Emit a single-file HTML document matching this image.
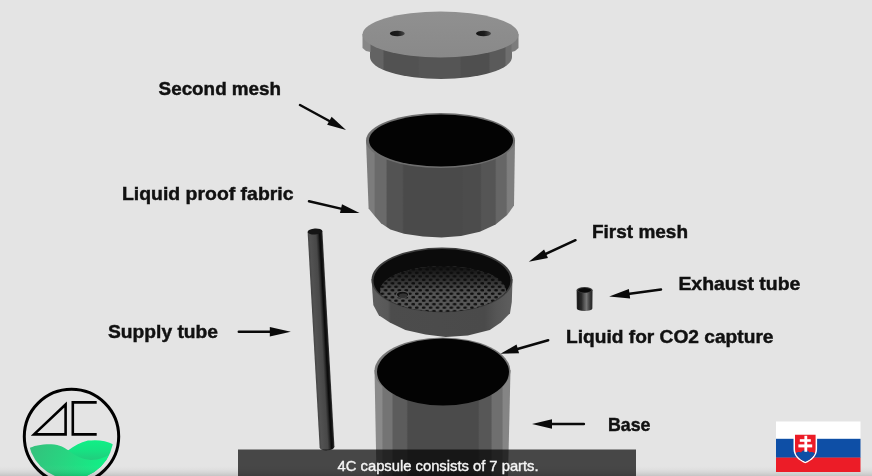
<!DOCTYPE html>
<html><head><meta charset="utf-8">
<style>
html,body{margin:0;padding:0;background:#e4e4e4;overflow:hidden;}
svg{display:block;will-change:transform;}
</style></head>
<body>
<svg width="872" height="476" viewBox="0 0 872 476">
<defs>
  <linearGradient id="bottomShade" x1="0" y1="0" x2="0" y2="1">
    <stop offset="0" stop-color="#e4e4e4" stop-opacity="0"/>
    <stop offset="1" stop-color="#000" stop-opacity="0.14"/>
  </linearGradient>
  <linearGradient id="lidTop" x1="0" y1="0" x2="0" y2="1">
    <stop offset="0" stop-color="#909090"/>
    <stop offset="1" stop-color="#898989"/>
  </linearGradient>
  <linearGradient id="lidSide" x1="370" y1="0" x2="512" y2="0" gradientUnits="userSpaceOnUse">
    <stop offset="0.0000" stop-color="#636363"/>
    <stop offset="0.0894" stop-color="#636363"/>
    <stop offset="0.1007" stop-color="#525252"/>
    <stop offset="0.3380" stop-color="#525252"/>
    <stop offset="0.3493" stop-color="#555555"/>
    <stop offset="0.6324" stop-color="#555555"/>
    <stop offset="0.6437" stop-color="#4f4f4f"/>
    <stop offset="0.8359" stop-color="#4f4f4f"/>
    <stop offset="0.8472" stop-color="#5a5a5a"/>
    <stop offset="0.9486" stop-color="#5a5a5a"/>
    <stop offset="0.9599" stop-color="#6e6e6e"/>
    <stop offset="1.0000" stop-color="#6e6e6e"/>
  </linearGradient>
  <linearGradient id="holeGrad" x1="0" y1="0" x2="1" y2="0">
    <stop offset="0" stop-color="#151515"/>
    <stop offset="0.55" stop-color="#1c1c1c"/>
    <stop offset="1" stop-color="#4a4a4a"/>
  </linearGradient>
  <linearGradient id="cylWall" x1="366" y1="0" x2="515" y2="0" gradientUnits="userSpaceOnUse">
    <stop offset="0.0000" stop-color="#7c7c7c"/>
    <stop offset="0.0530" stop-color="#7c7c7c"/>
    <stop offset="0.0638" stop-color="#6a6a6a"/>
    <stop offset="0.1329" stop-color="#6a6a6a"/>
    <stop offset="0.1436" stop-color="#535353"/>
    <stop offset="0.2430" stop-color="#535353"/>
    <stop offset="0.2537" stop-color="#4a4a4a"/>
    <stop offset="0.6436" stop-color="#4a4a4a"/>
    <stop offset="0.6544" stop-color="#4c4c4c"/>
    <stop offset="0.7664" stop-color="#4c4c4c"/>
    <stop offset="0.7772" stop-color="#555555"/>
    <stop offset="0.8658" stop-color="#555555"/>
    <stop offset="0.8765" stop-color="#666666"/>
    <stop offset="0.9396" stop-color="#666666"/>
    <stop offset="0.9503" stop-color="#7e7e7e"/>
    <stop offset="1.0000" stop-color="#7e7e7e"/>
  </linearGradient>
  <linearGradient id="trayWall" x1="371" y1="0" x2="513" y2="0" gradientUnits="userSpaceOnUse">
    <stop offset="0" stop-color="#5e5e5e"/>
    <stop offset="0.12" stop-color="#585858"/>
    <stop offset="0.14" stop-color="#4c4c4c"/>
    <stop offset="0.8" stop-color="#4a4a4a"/>
    <stop offset="0.88" stop-color="#555"/>
    <stop offset="1" stop-color="#5f5f5f"/>
  </linearGradient>
  <linearGradient id="baseWall" x1="375" y1="0" x2="510.5" y2="0" gradientUnits="userSpaceOnUse">
    <stop offset="0.0000" stop-color="#8a8a8a"/>
    <stop offset="0.0487" stop-color="#8a8a8a"/>
    <stop offset="0.0605" stop-color="#747474"/>
    <stop offset="0.1232" stop-color="#747474"/>
    <stop offset="0.1351" stop-color="#5c5c5c"/>
    <stop offset="0.2317" stop-color="#5c5c5c"/>
    <stop offset="0.2435" stop-color="#4b4b4b"/>
    <stop offset="0.7601" stop-color="#4b4b4b"/>
    <stop offset="0.7720" stop-color="#575757"/>
    <stop offset="0.8546" stop-color="#575757"/>
    <stop offset="0.8664" stop-color="#6f6f6f"/>
    <stop offset="0.9358" stop-color="#6f6f6f"/>
    <stop offset="0.9476" stop-color="#858585"/>
    <stop offset="1.0000" stop-color="#858585"/>
  </linearGradient>
  <linearGradient id="tubeGrad" x1="0" y1="0" x2="1" y2="0">
    <stop offset="0" stop-color="#444"/>
    <stop offset="0.15" stop-color="#525252"/>
    <stop offset="0.55" stop-color="#484848"/>
    <stop offset="0.68" stop-color="#2c2c2c"/>
    <stop offset="0.8" stop-color="#0a0a0a"/>
    <stop offset="0.9" stop-color="#141414"/>
    <stop offset="1" stop-color="#383838"/>
  </linearGradient>
  <linearGradient id="exGrad" x1="576" y1="0" x2="593" y2="0" gradientUnits="userSpaceOnUse">
    <stop offset="0" stop-color="#333"/>
    <stop offset="0.12" stop-color="#1a1a1a"/>
    <stop offset="0.32" stop-color="#2a2a2a"/>
    <stop offset="0.5" stop-color="#5a5a5a"/>
    <stop offset="0.62" stop-color="#747474"/>
    <stop offset="0.76" stop-color="#4a4a4a"/>
    <stop offset="0.9" stop-color="#2a2a2a"/>
    <stop offset="1" stop-color="#444"/>
  </linearGradient>
  <pattern id="holes" x="1" y="0.5" width="6.9" height="6.94" patternUnits="userSpaceOnUse">
    <rect width="6.9" height="6.94" fill="#5c5c5c"/>
    <ellipse cx="1.7" cy="1.7" rx="2" ry="1.2" fill="#101010"/>
    <ellipse cx="5.15" cy="5.17" rx="2" ry="1.2" fill="#101010"/>
  </pattern>
  <linearGradient id="floorShade" x1="0" y1="0" x2="0" y2="1">
    <stop offset="0" stop-color="#0b0b0b" stop-opacity="0.95"/>
    <stop offset="0.25" stop-color="#0b0b0b" stop-opacity="0.6"/>
    <stop offset="0.55" stop-color="#0b0b0b" stop-opacity="0.1"/>
    <stop offset="1" stop-color="#0b0b0b" stop-opacity="0"/>
  </linearGradient>
  <clipPath id="trayInner"><ellipse cx="442" cy="280.5" rx="68.5" ry="31.5"/></clipPath>
  <clipPath id="logoClip"><circle cx="70.8" cy="436.5" r="42.6"/></clipPath>
  <linearGradient id="greenRight" x1="0" y1="440" x2="0" y2="460" gradientUnits="userSpaceOnUse">
    <stop offset="0" stop-color="#10f086"/>
    <stop offset="0.5" stop-color="#16e383"/>
    <stop offset="1" stop-color="#22cc7d"/>
  </linearGradient>
  <linearGradient id="greenLeft" x1="30" y1="446" x2="100" y2="476" gradientUnits="userSpaceOnUse">
    <stop offset="0" stop-color="#34c07c"/>
    <stop offset="0.5" stop-color="#27d681"/>
    <stop offset="1" stop-color="#10f086"/>
  </linearGradient>
</defs>

<rect x="0" y="0" width="872" height="476" fill="#e4e4e4"/>

<!-- ===== LID ===== -->
<path d="M370 40 L370 57 A71 22 0 0 0 512 57 L512 40 Z" fill="url(#lidSide)"/>
<path d="M362.5 34 L362.5 48 L366 51 L370.5 52 L370.5 40 Z" fill="#878787"/>
<path d="M518.5 34 L518.5 48 L515 51 L511.5 52 L511.5 40 Z" fill="#7c7c7c"/>
<ellipse cx="440.5" cy="34.5" rx="78" ry="23" fill="url(#lidTop)"/>
<ellipse cx="397.3" cy="33.5" rx="7.5" ry="2.8" fill="url(#holeGrad)"/>
<ellipse cx="483.5" cy="33.5" rx="7.5" ry="2.8" fill="url(#holeGrad)"/>

<!-- ===== SECOND MESH (cylinder) ===== -->
<path d="M366 140 L368.6 208.5 L374.7 216 L381 223.3 L390.4 229.6 L404 233.8 L423 236.5 L441.5 237.6 L461 236 L479.9 231.7 L495.6 224.4 L507.2 215 L514 205.5 L515 140 Z" fill="url(#cylWall)"/>
<ellipse cx="440.5" cy="140.5" rx="74.5" ry="27.5" fill="#6e6e6e"/>
<ellipse cx="441" cy="140.5" rx="72" ry="26" fill="#030303"/>

<!-- ===== FIRST MESH (tray) ===== -->
<path d="M371.5 279 L373.3 305 L378.8 315.2 L389.8 322.5 L405.4 329.9 L425.6 334.4 L445.7 336.9 L467.8 335.4 L489.8 329.9 L500.8 322.5 L510 313.3 L511.8 302 L512.5 279 Z" fill="url(#trayWall)"/>
<ellipse cx="442" cy="280" rx="70.5" ry="32.5" fill="#3e3e3e"/>
<ellipse cx="442" cy="280.5" rx="68.5" ry="31.5" fill="#0b0b0b"/>
<g clip-path="url(#trayInner)">
  <ellipse cx="443" cy="291" rx="63" ry="25" fill="url(#holes)"/>
  <ellipse cx="443" cy="291" rx="63" ry="25" fill="url(#floorShade)"/>
</g>
<ellipse cx="402.5" cy="294.6" rx="6.6" ry="3.6" fill="#5c5c5c"/>
<ellipse cx="402.5" cy="294.6" rx="5.6" ry="2.9" fill="#111"/>
<ellipse cx="403.2" cy="295.4" rx="4.2" ry="2" fill="#333"/>

<!-- ===== BASE ===== -->
<path d="M374.5 370 L376.5 476 L508 476 L510.5 370 Z" fill="url(#baseWall)"/>
<ellipse cx="442.5" cy="371" rx="68" ry="33.5" fill="#777"/>
<ellipse cx="443" cy="372" rx="66" ry="33.5" fill="#030303"/>

<!-- ===== SUPPLY TUBE ===== -->
<g transform="translate(315 231.5) rotate(-3.2)">
  <rect x="-7.4" y="0" width="14.8" height="216" fill="url(#tubeGrad)"/>
  <ellipse cx="0" cy="216" rx="7.4" ry="3.2" fill="url(#tubeGrad)"/>
  <ellipse cx="0" cy="0" rx="7.4" ry="3" fill="#151515"/>
</g>

<!-- ===== EXHAUST TUBE ===== -->
<path d="M576.6 290 L576.8 308.5 A7.8 2.4 0 0 0 592.4 308.5 L592.6 290 Z" fill="url(#exGrad)"/>
<ellipse cx="584.6" cy="290" rx="8" ry="2.9" fill="#3a3a3a"/>
<ellipse cx="584.6" cy="290.2" rx="6.6" ry="2.2" fill="#0a0a0a"/>

<!-- ===== ARROWS ===== -->
<g stroke="#0a0a0a" stroke-width="2.5" fill="none" stroke-linecap="round">
  <line x1="300" y1="105" x2="333" y2="123"/>
  <line x1="309" y1="201.2" x2="345" y2="209.6"/>
  <line x1="575.5" y1="240.2" x2="543" y2="255.2"/>
  <line x1="661" y1="289.5" x2="626" y2="294.3"/>
  <line x1="548.2" y1="340.2" x2="514" y2="350"/>
  <line x1="583.9" y1="424" x2="548" y2="424"/>
  <line x1="238.8" y1="331.8" x2="275" y2="331.8"/>
</g>
<g fill="#0a0a0a">
  <path d="M0 0 L-19 -4.6 L-19 4.6 Z" transform="translate(346 130) rotate(29)"/>
  <path d="M0 0 L-19 -4.6 L-19 4.6 Z" transform="translate(359.5 212.9) rotate(13)"/>
  <path d="M0 0 L-19 -4.6 L-19 4.6 Z" transform="translate(528.8 261.8) rotate(155)"/>
  <path d="M0 0 L-20.5 -4.8 L-20.5 4.8 Z" transform="translate(609.2 296.6) rotate(172.3)"/>
  <path d="M0 0 L-18 -4.5 L-18 4.5 Z" transform="translate(500.5 353.8) rotate(164)"/>
  <path d="M0 0 L-20 -4.8 L-20 4.8 Z" transform="translate(532 424) rotate(180)"/>
  <path d="M0 0 L-21 -4.8 L-21 4.8 Z" transform="translate(290.8 331.8)"/>
</g>

<!-- ===== LABELS ===== -->
<g font-family="Liberation Sans, sans-serif" font-weight="bold" font-size="19" fill="#111" stroke="#111" stroke-width="0.45">
  <text x="158.6" y="95.2" textLength="122.5" lengthAdjust="spacingAndGlyphs">Second mesh</text>
  <text x="122" y="200.3" textLength="171.5" lengthAdjust="spacingAndGlyphs">Liquid proof fabric</text>
  <text x="592" y="238.3" textLength="96" lengthAdjust="spacingAndGlyphs">First mesh</text>
  <text x="678.4" y="290" textLength="122" lengthAdjust="spacingAndGlyphs">Exhaust tube</text>
  <text x="566" y="342.5" textLength="207.5" lengthAdjust="spacingAndGlyphs">Liquid for CO2 capture</text>
  <text x="608" y="431" textLength="42.5" lengthAdjust="spacingAndGlyphs">Base</text>
  <text x="108" y="338.2" textLength="110" lengthAdjust="spacingAndGlyphs">Supply tube</text>
</g>

<!-- ===== LOGO ===== -->
<g clip-path="url(#logoClip)">
  <path d="M60 458 C63 455 66 452 68.3 450.3 C74 446 80 442.5 88 440.6 C96 439.5 108 440 116 446 L116 490 L60 490 Z" fill="url(#greenRight)"/>
  <path d="M24 453 C27 447 38 444 51.3 444.2 C60 444.5 65 448 68.3 450.3 C74 455 82 459.5 91 460 C100 460 108 456 116 451 L116 490 L24 490 Z" fill="url(#greenLeft)"/>
</g>
<circle cx="71.5" cy="436.5" r="47.2" fill="none" stroke="#000" stroke-width="3"/>
<path d="M65.6 404.5 L34 434.4 L65.6 434.4 Z" fill="none" stroke="#000" stroke-width="2.6" stroke-linejoin="miter" stroke-miterlimit="10"/>
<path d="M96.7 402.4 L72.8 402.4 L72.8 434.4 L96.7 434.4" fill="none" stroke="#000" stroke-width="2.6"/>

<!-- bottom shade -->
<rect x="0" y="465" width="872" height="11" fill="url(#bottomShade)"/>

<!-- ===== SUBTITLE ===== -->
<rect x="238" y="449.5" width="398" height="27" fill="#000" fill-opacity="0.69"/>
<text x="337.6" y="470.8" font-family="Liberation Sans, sans-serif" font-size="14.8" fill="#f4f4f4" stroke="#f4f4f4" stroke-width="0.4" textLength="201" lengthAdjust="spacingAndGlyphs">4C capsule consists of 7 parts.</text>

<!-- ===== FLAG ===== -->
<rect x="776" y="421.5" width="84.5" height="17.5" fill="#ffffff"/>
<rect x="776" y="438.8" width="84.5" height="19" fill="#0e4fa6"/>
<rect x="776" y="457.6" width="84.5" height="14.4" fill="#ec1c27"/>
<path d="M793.5 433.5 L817.1 433.5 L817.1 449 C817.1 456 812 460.5 805.3 463.3 C798.6 460.5 793.5 456 793.5 449 Z" fill="#fff"/>
<path id="shieldIn" d="M795 434.8 L815.6 434.8 L815.6 449 C815.6 455.3 811 459.3 805.3 461.8 C799.6 459.3 795 455.3 795 449 Z" fill="#ec1c27"/>
<clipPath id="shieldClip"><path d="M795 434.8 L815.6 434.8 L815.6 449 C815.6 455.3 811 459.3 805.3 461.8 C799.6 459.3 795 455.3 795 449 Z"/></clipPath>
<path clip-path="url(#shieldClip)" d="M794 455 C796 452 799 451.5 801 452.5 C802.5 450.5 804 450 805.3 450.5 C806.6 450 808 450.5 809.5 452.5 C811.5 451.5 814.5 452 816.6 455 L816.6 465 L794 465 Z" fill="#0e4fa6"/>
<rect x="804.4" y="435.8" width="2.8" height="16" fill="#fff"/>
<rect x="799.8" y="439.2" width="11" height="2.6" fill="#fff"/>
<rect x="798.4" y="444.4" width="13.8" height="3" fill="#fff"/>
</svg>
</body></html>
